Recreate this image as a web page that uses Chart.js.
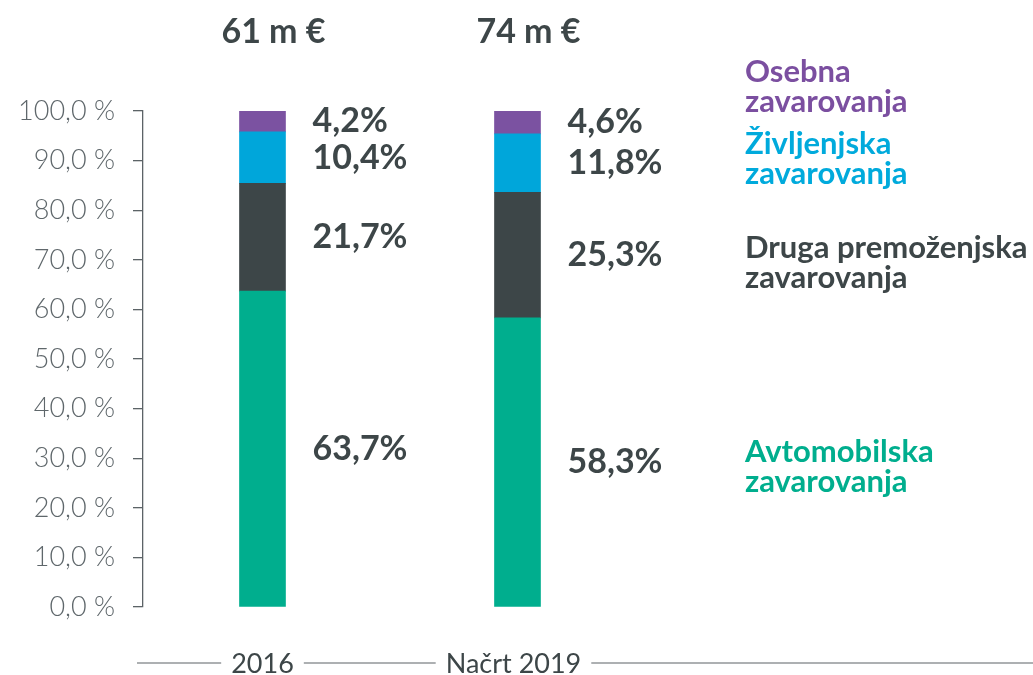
<!DOCTYPE html>
<html>
<head>
<meta charset="utf-8">
<script src="https://cdn.jsdelivr.net/npm/chart.js@4.4.1/dist/chart.umd.min.js"></script>
<style>
  html, body { margin: 0; padding: 0; background: #fff; }
  #wrap { position: relative; width: 1033px; height: 675px; }
</style>
</head>
<body>
<div id="wrap"><canvas id="c"></canvas></div>
<script>
// ── DATA ─────────────────────────────────────────────────────────────
var categories = ['2016', 'Načrt 2019'];
var totals = ['61 m €', '74 m €'];
var seriesNames = [
  ['Avtomobilska', 'zavarovanja'],
  ['Druga premoženjska', 'zavarovanja'],
  ['Življenjska', 'zavarovanja'],
  ['Osebna', 'zavarovanja']
];
var avtomobilska = [63.7, 58.3];
var drugaPremozenjska = [21.7, 25.3];
var zivljenjska = [10.4, 11.8];
var osebna = [4.2, 4.6];
var yTicks = [0, 10, 20, 30, 40, 50, 60, 70, 80, 90, 100];

// ── STYLE ────────────────────────────────────────────────────────────
var barColors = ['#00ae8e', '#3d4648', '#00a6da', '#7b52a1'];
var legendColors = ['#00ae8e', '#3d4648', '#00aadc', '#7b4fa0'];
var dark = '#3d4648';
var axisGrey = '#5c6367';
var font = 'Lato, "Noto Sans", sans-serif';
// legend block baselines (first line) on the right
var legendBaselines = [462, 258, 154, 82];

function fmtTick(v) { return v.toFixed(1).replace('.', ',') + ' %'; }
function fmtVal(v) { return v.toFixed(1).replace('.', ',') + '%'; }

var seriesVals = [avtomobilska, drugaPremozenjska, zivljenjska, osebna];
var datasets = seriesVals.map(function(vals, si) {
  return {
    label: seriesNames[si].join(' '),
    data: vals.map(function(v, i) { return { x: i, y: v }; }),
    backgroundColor: barColors[si],
    borderWidth: 0,
    barThickness: 46
  };
});

// ── ANNOTATIONS: value labels, totals, bottom axis, legend ───────────
var annotate = {
  id: 'annotate',
  afterDatasetsDraw: function(chart) {
    var ctx = chart.ctx;
    var xs = chart.scales.x;
    ctx.save();

    // value labels right of each segment
    ctx.font = 'bold 34px ' + font;
    ctx.fillStyle = dark;
    ctx.textAlign = 'left';
    ctx.textBaseline = 'middle';
    chart.data.datasets.forEach(function(ds, di) {
      var meta = chart.getDatasetMeta(di);
      meta.data.forEach(function(el, i) {
        var mid = (el.y + el.base) / 2;
        ctx.fillText(fmtVal(seriesVals[di][i]), el.x + el.width / 2 + 27, mid);
      });
    });

    // totals on top
    ctx.font = 'bold 34px ' + font;
    ctx.textAlign = 'center';
    ctx.textBaseline = 'alphabetic';
    totals.forEach(function(t, i) {
      ctx.fillText(t, xs.getPixelForValue(i) + 11, 43);
    });

    // bottom category labels with broken axis line
    ctx.font = '27px ' + font;
    ctx.textBaseline = 'middle';
    var yLine = 663;
    var gap = 10;
    var cursor = chart.chartArea.left - 6;
    ctx.strokeStyle = axisGrey;
    ctx.lineWidth = 1.2;
    categories.forEach(function(c, i) {
      var cx = xs.getPixelForValue(i) - (i === 1 ? 4 : 0);
      var w = ctx.measureText(c).width;
      ctx.beginPath();
      ctx.moveTo(cursor, yLine);
      ctx.lineTo(cx - w / 2 - gap, yLine);
      ctx.stroke();
      ctx.fillStyle = dark;
      ctx.fillText(c, cx, yLine + 1);
      cursor = cx + w / 2 + gap;
    });
    ctx.beginPath();
    ctx.moveTo(cursor, yLine);
    ctx.lineTo(chart.width, yLine);
    ctx.stroke();

    // legend text on the right
    ctx.font = 'bold 31px ' + font;
    ctx.textAlign = 'left';
    ctx.textBaseline = 'alphabetic';
    seriesNames.forEach(function(lines, si) {
      ctx.fillStyle = legendColors[si];
      lines.forEach(function(line, li) {
        ctx.fillText(line, 745, legendBaselines[si] + li * 30);
      });
    });

    ctx.restore();
  }
};

new Chart(document.getElementById('c'), {
  type: 'bar',
  data: { datasets: datasets },
  plugins: [annotate],
  options: {
    responsive: true,
    maintainAspectRatio: false,
    animation: false,
    layout: { padding: { top: 111, bottom: 68, left: 0, right: 0 } },
    plugins: { legend: { display: false }, tooltip: { enabled: false } },
    scales: {
      x: {
        type: 'linear',
        stacked: true,
        display: false,
        offset: false,
        bounds: 'data',
        min: -0.4686,
        max: 3.0216
      },
      y: {
        stacked: true,
        min: 0,
        max: 100,
        afterFit: function(s) { s.width = 143; },
        afterBuildTicks: function(s) {
          s.ticks = yTicks.map(function(v) { return { value: v }; });
        },
        ticks: {
          color: '#5f676b',
          padding: 18,
          font: { family: font, size: 27, weight: '300' },
          callback: function(v) { return fmtTick(v); }
        },
        grid: {
          drawOnChartArea: false,
          drawTicks: true,
          tickLength: 10,
          color: axisGrey,
          lineWidth: 1.3
        },
        border: { display: true, color: axisGrey, width: 1.3 }
      }
    }
  }
});
</script>
</body>
</html>
